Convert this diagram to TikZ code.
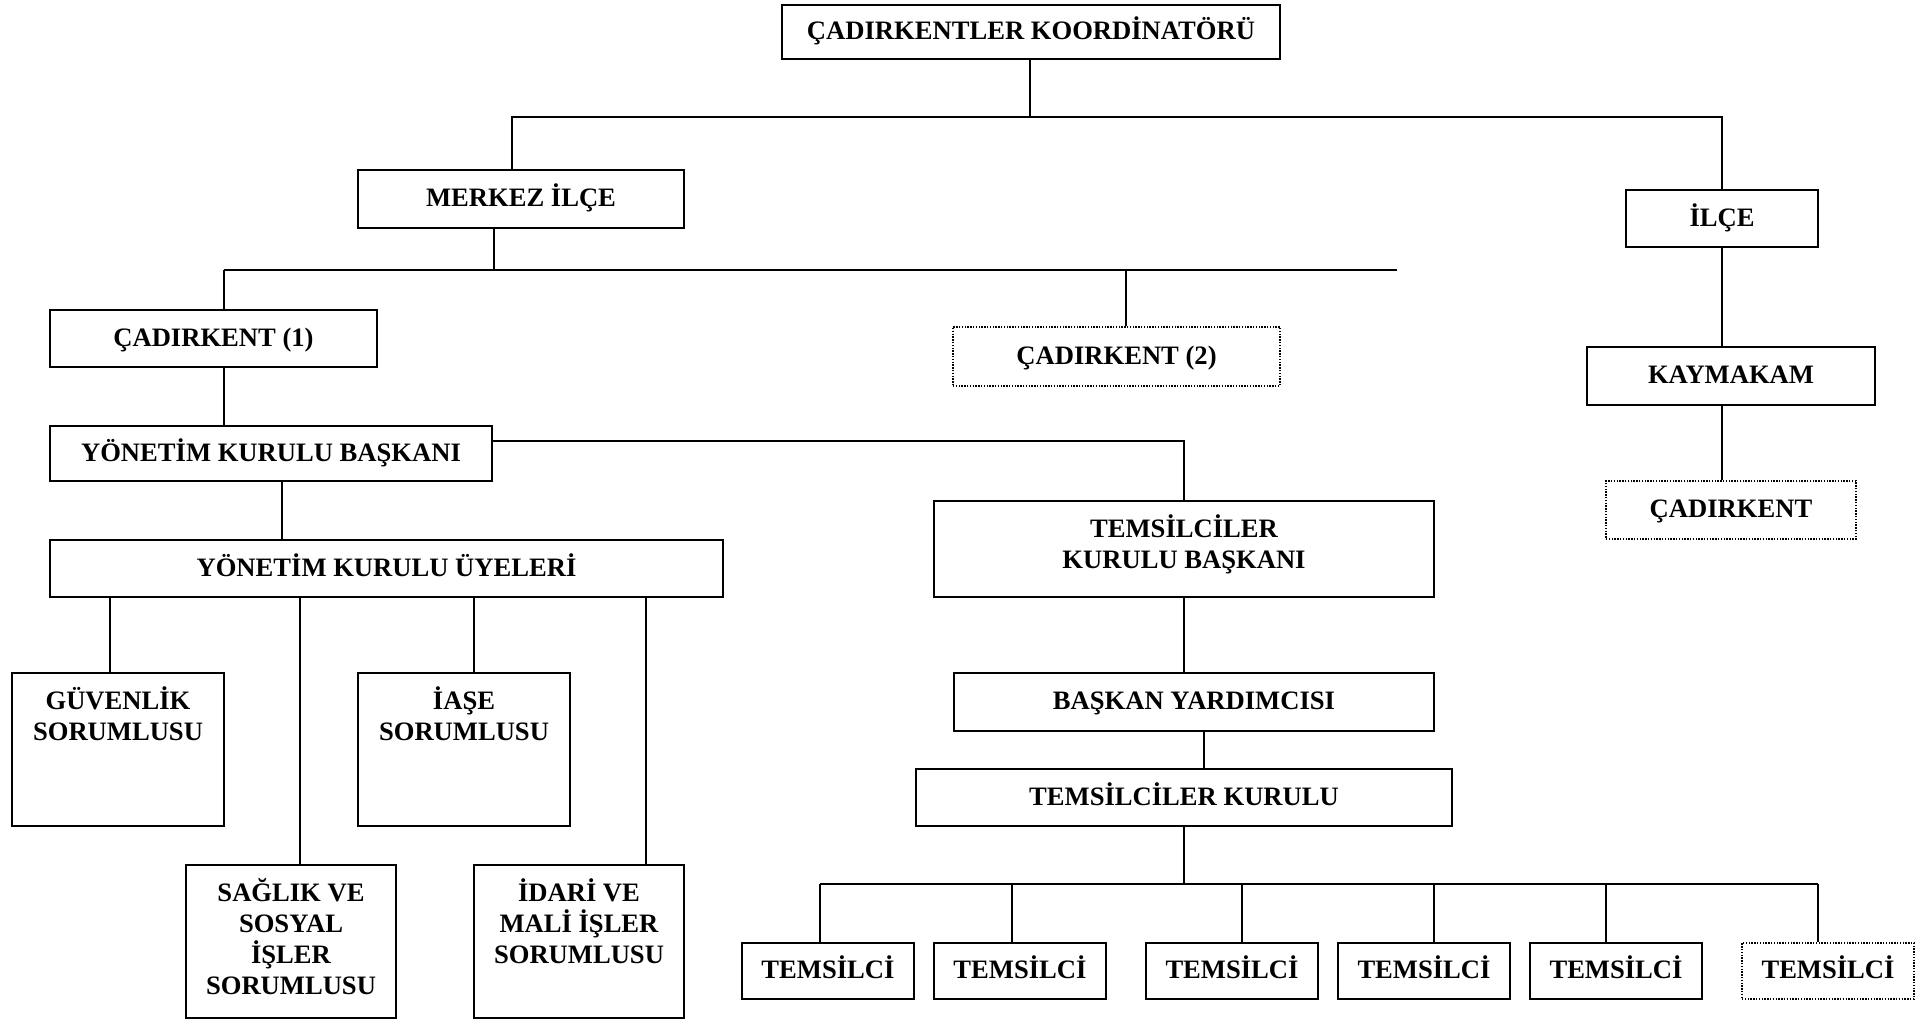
\documentclass[tikz,border=0pt]{standalone}
\usepackage{fontspec}
\setmainfont{Liberation Serif}
\usetikzlibrary{calc}

\begin{document}
\begin{tikzpicture}[x=0.5pt,y=-0.5pt]
\tikzset{kutu/.style={draw, line width=0.8pt, inner sep=0pt, align=center, text height=10pt, text depth=2.4pt, font=\bfseries\fontsize{13.3}{15.5}\selectfont},
noktali/.style={kutu, dash pattern=on 0.7pt off 0.7pt},
yazi/.style={inner sep=0pt, align=center, anchor=north, font=\bfseries\fontsize{13.3}{15.5}\selectfont},
cizgi/.style={line width=0.8pt}}
\useasboundingbox (0,0) rectangle (1930,1021);
% kutular
\node[kutu, minimum width=249pt, minimum height=27pt] (koord) at (1031,32) {ÇADIRKENTLER KOORDİNATÖRÜ};
\node[kutu, minimum width=163pt, minimum height=29pt] (merkez) at (521,199) {MERKEZ İLÇE};
\node[kutu, minimum width=96pt, minimum height=28.5pt] (ilce) at (1722,218.5) {İLÇE};
\node[kutu, minimum width=163.5pt, minimum height=28.5pt] (cad1) at (213.5,338.5) {ÇADIRKENT (1)};
\node[noktali, minimum width=163.5pt, minimum height=29.5pt] (cad2) at (1116.5,356.5) {ÇADIRKENT (2)};
\node[kutu, minimum width=144pt, minimum height=29pt] (kaym) at (1731,376) {KAYMAKAM};
\node[kutu, minimum width=221pt, minimum height=27.5pt] (ykb) at (271,453.5) {YÖNETİM KURULU BAŞKANI};
\node[noktali, minimum width=125pt, minimum height=29pt] (cad3) at (1731,510) {ÇADIRKENT};
\node[kutu, minimum width=250pt, minimum height=48pt] (tkb) at (1184,549) {};
\node[yazi] (tkbt) at ($(tkb.north)+(0,14)$) {TEMSİLCİLER\\KURULU BAŞKANI};
\node[kutu, minimum width=336.5pt, minimum height=28.5pt] (yku) at (386.5,568.5) {YÖNETİM KURULU ÜYELERİ};
\node[kutu, minimum width=240pt, minimum height=29pt] (by) at (1194,702) {BAŞKAN YARDIMCISI};
\node[kutu, minimum width=268pt, minimum height=28.5pt] (tk) at (1184,797.5) {TEMSİLCİLER KURULU};
% sorumlular
\node[kutu, minimum width=106pt, minimum height=76.5pt] (guv) at (118,749.5) {};
\node[yazi] (guvt) at ($(guv.north)+(0,14)$) {GÜVENLİK\\SORUMLUSU};
\node[kutu, minimum width=106pt, minimum height=76.5pt] (iase) at (464,749.5) {};
\node[yazi] (iaset) at ($(iase.north)+(0,14)$) {İAŞE\\SORUMLUSU};
\node[kutu, minimum width=105pt, minimum height=76.5pt] (saglik) at (291,941.5) {};
\node[yazi] (saglikt) at ($(saglik.north)+(0,14)$) {SAĞLIK VE\\SOSYAL\\İŞLER\\SORUMLUSU};
\node[kutu, minimum width=105pt, minimum height=76.5pt] (idari) at (579,941.5) {};
\node[yazi] (idarit) at ($(idari.north)+(0,14)$) {İDARİ VE\\MALİ İŞLER\\SORUMLUSU};
% temsilciler
\foreach \i/\x in {1/828,2/1020,3/1232,4/1424,5/1616}
  \node[kutu, minimum width=86pt, minimum height=28pt] (t\i) at (\x,971) {TEMSİLCİ};
\node[noktali, minimum width=86pt, minimum height=28pt] (t6) at (1828,971) {TEMSİLCİ};

% baglantilar
\coordinate (k1) at (1030,117);
\draw[cizgi] (koord.south -| k1) -- (k1);
\draw[cizgi] ($(merkez.north)+(-9,0)$) |- (k1) -| (ilce.north);
\draw[cizgi] (ilce.south) -- (kaym.north -| ilce.south);
\draw[cizgi] (kaym.south -| ilce.south) -- (cad3.north -| ilce.south);
\coordinate (m1) at (494,270);
\coordinate (m2) at (1397,270);
\coordinate (m3) at (1126,270);
\coordinate (c1) at (224,270);
\draw[cizgi] (merkez.south -| m1) -- (m1);
\draw[cizgi] (c1) -- (m2);
\draw[cizgi] (c1) -- (c1 |- cad1.north);
\draw[cizgi] (m3) -- (m3 |- cad2.north);
\draw[cizgi] (c1 |- cad1.south) -- (c1 |- ykb.north);
\draw[cizgi] ($(ykb.east)+(0,-12.5)$) -| (tkb.north);
\coordinate (y2) at (282,0);
\draw[cizgi] (ykb.south -| y2) -- (yku.north -| y2);
\foreach \n/\x in {guv/110,saglik/300,iase/474,idari/646} {
  \coordinate (d\n) at (\x,0);
  \draw[cizgi] (yku.south -| d\n) -- (\n.north -| d\n);
}
\draw[cizgi] (tkb.south) -- (by.north -| tkb.south);
\coordinate (b0) at (1204,0);
\draw[cizgi] (by.south -| b0) -- (tk.north -| b0);
\coordinate (tb) at (1184,884);
\draw[cizgi] (tk.south) -- (tb);
\foreach \i/\x in {1/820,2/1012,3/1242,4/1434,5/1606,6/1818} {
  \coordinate (e\i) at (\x,884);
  \draw[cizgi] (e\i) -- (e\i |- t\i.north);
}
\draw[cizgi] (e1) -- (e6);
\end{tikzpicture}
\end{document}
